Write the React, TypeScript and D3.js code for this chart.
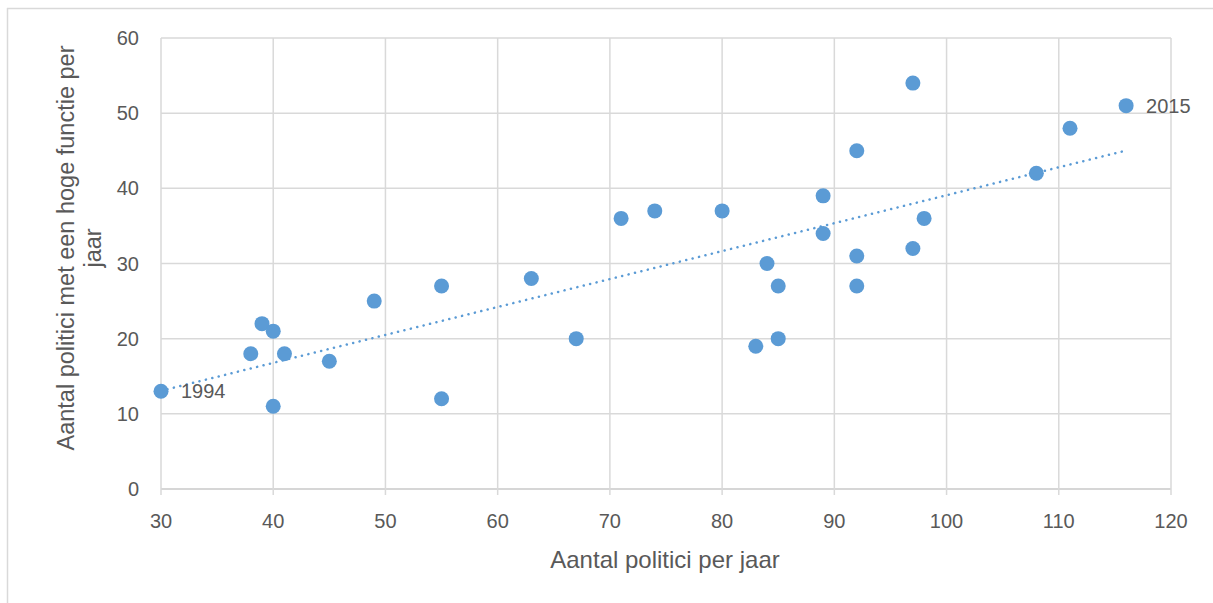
import React from "react";
import * as d3 from "d3";

const xValues = [30, 38, 39, 40, 40, 41, 45, 49, 55, 55, 63, 67, 71, 74, 80, 83, 84, 85, 85, 89, 89, 92, 92, 92, 97, 97, 98, 108, 111, 116];
const yValues = [13, 18, 22, 21, 11, 18, 17, 25, 27, 12, 28, 20, 36, 37, 37, 19, 30, 27, 20, 39, 34, 45, 31, 27, 54, 32, 36, 42, 48, 51];
const pointLabels = [
  { x: 30, y: 13, text: "1994" },
  { x: 116, y: 51, text: "2015" },
];
const xTicks = [30, 40, 50, 60, 70, 80, 90, 100, 110, 120];
const yTicks = [0, 10, 20, 30, 40, 50, 60];
const xTitle = "Aantal politici per jaar";
const yTitleLines = ["Aantal politici met een hoge functie per", "jaar"];

const W = 1213;
const H = 603;
const left = 161;
const right = 1171;
const top = 38;
const bottom = 489;
const blue = "#5B9BD5";
const grid = "#d9d9d9";
const textColor = "#595959";
const font = "'Liberation Sans', Arial, sans-serif";

export default function App() {
  const x = d3.scaleLinear().domain([30, 120]).range([left, right]);
  const y = d3.scaleLinear().domain([0, 60]).range([bottom, top]);

  const n = xValues.length;
  const mx = d3.mean(xValues) as number;
  const my = d3.mean(yValues) as number;
  let sxy = 0;
  let sxx = 0;
  for (let i = 0; i < n; i++) {
    sxy += (xValues[i] - mx) * (yValues[i] - my);
    sxx += (xValues[i] - mx) ** 2;
  }
  const slope = sxy / sxx;
  const intercept = my - slope * mx;
  const [x0, x1] = d3.extent(xValues) as [number, number];
  const line = d3.line<number>().x((d) => x(d)).y((d) => y(intercept + slope * d));

  const cx = 66;
  const cy = 248;

  return (
    <svg width={W} height={H} style={{ position: "fixed", left: 0, top: 0, background: "#fff" }}>
      <rect x={0} y={0} width={W} height={H} fill="#fff" />
      <line x1={7} y1={8.5} x2={W} y2={8.5} stroke={grid} strokeWidth={1.5} />
      <line x1={7.5} y1={8} x2={7.5} y2={H} stroke={grid} strokeWidth={1.5} />

      {yTicks.map((t) => (
        <line key={"gy" + t} x1={left} x2={right} y1={y(t)} y2={y(t)} stroke={t === 0 ? "#c8c8c8" : grid} strokeWidth={1.5} />
      ))}
      {xTicks.map((t) => (
        <line key={"gx" + t} x1={x(t)} x2={x(t)} y1={top} y2={bottom + 6} stroke={grid} strokeWidth={1.5} />
      ))}

      {yTicks.map((t) => (
        <text key={"ty" + t} x={139} y={y(t)} dy="0.35em" textAnchor="end" fontFamily={font} fontSize={20} fill={textColor}>
          {t}
        </text>
      ))}
      {xTicks.map((t) => (
        <text key={"tx" + t} x={x(t)} y={521} dy="0.35em" textAnchor="middle" fontFamily={font} fontSize={20} fill={textColor}>
          {t}
        </text>
      ))}

      <path
        d={line([x0, x1]) || ""}
        fill="none"
        stroke={blue}
        strokeWidth={2.5}
        strokeDasharray="0.1 6.5"
        strokeLinecap="round"
      />

      {xValues.map((v, i) => (
        <circle key={"p" + i} cx={x(v)} cy={y(yValues[i])} r={7.5} fill={blue} />
      ))}

      {pointLabels.map((p) => (
        <text key={p.text} x={x(p.x) + 20} y={y(p.y)} dy="0.35em" fontFamily={font} fontSize={20} fill={textColor}>
          {p.text}
        </text>
      ))}

      <text x={665} y={560} dy="0.35em" textAnchor="middle" fontFamily={font} fontSize={24} fill={textColor}>
        {xTitle}
      </text>
      <g transform={`translate(${cx},${cy}) rotate(-90)`}>
        {yTitleLines.map((l, i) => (
          <text key={l} x={0} y={i * 27} dy="0.35em" textAnchor="middle" fontFamily={font} fontSize={23.5} fill={textColor}>
            {l}
          </text>
        ))}
      </g>
    </svg>
  );
}
